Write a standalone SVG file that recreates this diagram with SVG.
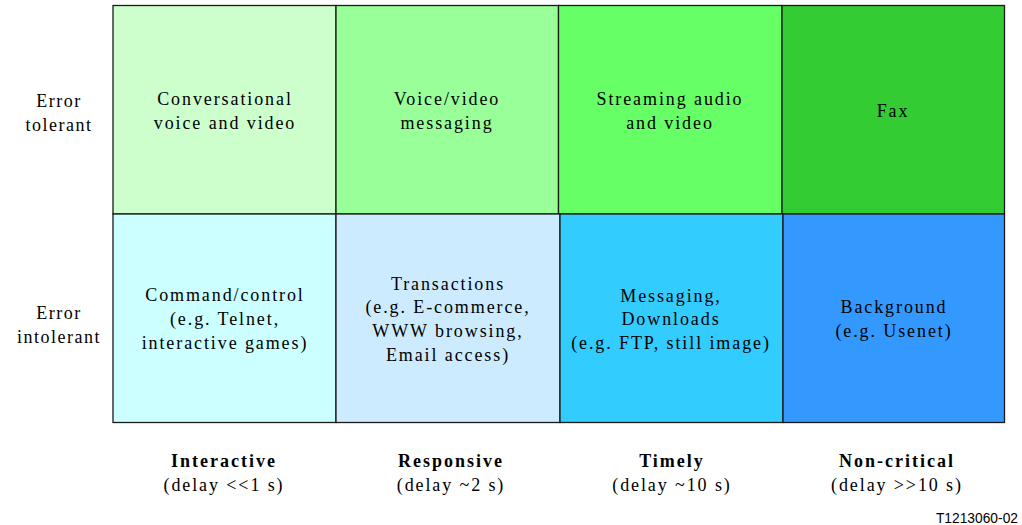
<svg xmlns="http://www.w3.org/2000/svg" width="1022" height="525" viewBox="0 0 1022 525">
<style>
.cell{stroke:#1a1a1a;stroke-width:1.3}
text{font-family:"Liberation Serif","Times New Roman",serif;font-size:18px;fill:#000;text-anchor:middle;letter-spacing:1.9px}
.r{letter-spacing:1.5px}
.b{font-weight:bold;letter-spacing:2px}
.id{font-family:"Liberation Sans",Arial,sans-serif;font-size:13.8px;text-anchor:end;letter-spacing:0}
</style>
<rect width="1022" height="525" fill="#fff"/>
<g id="c11"><rect class="cell" x="113" y="5.5" width="223" height="208.5" fill="#CCFFCC"/>
<text x="225" y="105">Conversational</text><text x="225" y="129">voice and video</text></g>
<g id="c12"><rect class="cell" x="336" y="5.5" width="222.5" height="208.5" fill="#99FF99"/>
<text x="447" y="105">Voice/video</text><text x="447" y="129">messaging</text></g>
<g id="c13"><rect class="cell" x="558.5" y="5.5" width="223.5" height="208.5" fill="#66FF66"/>
<text x="670" y="105">Streaming audio</text><text x="670" y="129">and video</text></g>
<g id="c14"><rect class="cell" x="782" y="5.5" width="222.5" height="208.5" fill="#33CC33"/>
<text x="893" y="117">Fax</text></g>
<g id="c21"><rect class="cell" x="113" y="214" width="223" height="208.5" fill="#CCFFFF"/>
<text x="225" y="301">Command/control</text><text x="225" y="325">(e.g. Telnet,</text><text x="225" y="349">interactive games)</text></g>
<g id="c22"><rect class="cell" x="336" y="214" width="224" height="208.5" fill="#CCEBFF"/>
<text x="448" y="290">Transactions</text><text x="448" y="313">(e.g. E-commerce,</text><text x="448" y="337">WWW browsing,</text><text x="448" y="361">Email access)</text></g>
<g id="c23"><rect class="cell" x="560" y="214" width="223" height="208.5" fill="#33CCFF"/>
<text x="671" y="302">Messaging,</text><text x="671" y="325">Downloads</text><text x="671" y="349">(e.g. FTP, still image)</text></g>
<g id="c24"><rect class="cell" x="783" y="214" width="221.5" height="208.5" fill="#3399FF"/>
<text x="894" y="313">Background</text><text x="894" y="337">(e.g. Usenet)</text></g>
<g id="rows">
<text class="r" x="59" y="107">Error</text><text class="r" x="59" y="131">tolerant</text>
<text class="r" x="59" y="319">Error</text><text class="r" x="59" y="343">intolerant</text>
</g>
<g id="cols">
<text class="b" x="224" y="467">Interactive</text><text x="224" y="491">(delay &lt;&lt;1 s)</text>
<text class="b" x="451" y="467">Responsive</text><text x="451" y="491">(delay ~2 s)</text>
<text class="b" x="672" y="467">Timely</text><text x="672" y="491">(delay ~10 s)</text>
<text class="b" x="897" y="467">Non-critical</text><text x="897" y="491">(delay &gt;&gt;10 s)</text>
</g>
<text class="id" x="1018" y="523">T1213060-02</text>
<g id="connectors"/>
</svg>
